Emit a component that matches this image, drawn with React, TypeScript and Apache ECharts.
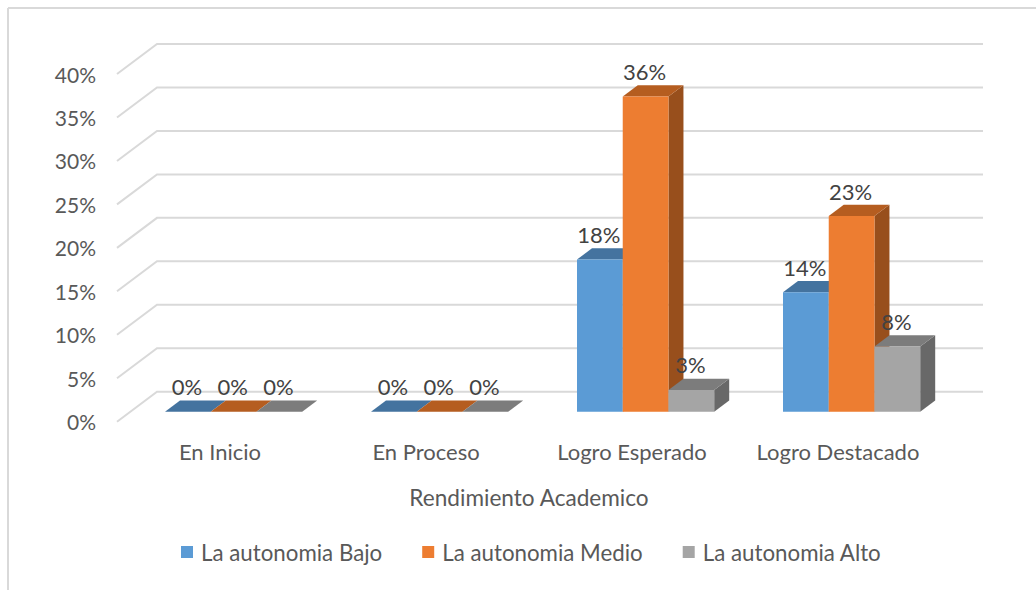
import React, { useEffect, useRef } from "react";
import * as echarts from "echarts";

const categories = ["En Inicio", "En Proceso", "Logro Esperado", "Logro Destacado"];
const seriesNames = ["La autonomia Bajo", "La autonomia Medio", "La autonomia Alto"];
const bajo = [0, 0, 17.5, 13.75];
const medio = [0, 0, 36.25, 22.5];
const alto = [0, 0, 2.5, 7.5];
const yTicks = [0, 5, 10, 15, 20, 25, 30, 35, 40];

const FONT = "Lato, Carlito, sans-serif";
const TEXT = "#595959";
const LABEL = "#424242";
const faceColors = ["#5b9bd5", "#ed7d31", "#a5a5a5"];
const topColors = ["#44739f", "#b55d20", "#7c7c7c"];
const sideColors = ["#3f6f9c", "#984f1c", "#686868"];

const WALL_DX = 40;
const WALL_DY = -30;
const PLANE_DX = 13.6;
const PLANE_DY = -10;
const BAR_DX = 15;
const BAR_DY = -11.3;
const BAR_RATIO = 0.222;

function poly(points: number[][], fill: string) {
  return { type: "polygon", shape: { points }, style: { fill, stroke: null } };
}

function barRenderer(idx: number) {
  return (_p: any, api: any) => {
    const cat = api.value(0);
    const val = api.value(1);
    const [cx, yTop0] = api.coord([cat, val]);
    const [, yBase0] = api.coord([cat, 0]);
    const w = api.size([1, 0])[0] * BAR_RATIO;
    const x0 = cx + PLANE_DX + (idx - 1.5) * w;
    const x1 = x0 + w;
    const yTop = yTop0 + PLANE_DY;
    const yBase = yBase0 + PLANE_DY;
    const children: any[] = [
      poly(
        [[x1, yTop], [x1 + BAR_DX, yTop + BAR_DY], [x1 + BAR_DX, yBase + BAR_DY], [x1, yBase]],
        sideColors[idx]
      ),
      poly(
        [[x0, yTop], [x0 + BAR_DX, yTop + BAR_DY], [x1 + BAR_DX, yTop + BAR_DY], [x1, yTop]],
        topColors[idx]
      ),
      poly([[x0, yTop], [x1, yTop], [x1, yBase], [x0, yBase]], faceColors[idx]),
      {
        type: "text",
        z2: 50,
        style: {
          text: `${Math.round(val)}%`,
          x: (x0 + x1) / 2 - 1,
          y: yTop - 25,
          align: "center",
          verticalAlign: "middle",
          fill: LABEL,
          font: `22px ${FONT}`,
        },
      },
    ];
    return { type: "group", children };
  };
}

function wallRenderer(p: any, api: any) {
  const [, y] = api.coord([0, api.value(1)]);
  const left = p.coordSys.x;
  const right = left + p.coordSys.width;
  return {
    type: "polyline",
    shape: {
      points: [
        [left, y],
        [left + WALL_DX, y + WALL_DY],
        [right + WALL_DX + 2, y + WALL_DY],
      ],
    },
    style: { fill: null, stroke: "#d9d9d9", lineWidth: 2 },
  };
}

export default function App() {
  const ref = useRef<HTMLDivElement>(null);
  useEffect(() => {
    const chart = echarts.init(ref.current!, null, { renderer: "svg" });
    const values = [bajo, medio, alto];
    chart.setOption({
      animation: false,
      backgroundColor: "#ffffff",
      textStyle: { fontFamily: FONT },
      grid: { left: 117, top: 74, width: 824, height: 347.7 },
      legend: {
        data: seriesNames,
        left: 176,
        top: 536,
        icon: "rect",
        itemWidth: 12,
        itemHeight: 12,
        itemGap: 40,
        textStyle: { color: TEXT, fontSize: 22.3, fontFamily: FONT, padding: [0, 0, 0, 3] },
      },
      xAxis: {
        type: "category",
        data: categories,
        axisLine: { show: false },
        axisTick: { show: false },
        splitLine: { show: false },
        axisLabel: { color: TEXT, fontSize: 22, fontFamily: FONT, margin: 19, interval: 0 },
        name: "Rendimiento Academico",
        nameLocation: "middle",
        nameGap: 64,
        nameTextStyle: { color: TEXT, fontSize: 22.6, fontFamily: FONT },
      },
      yAxis: {
        type: "value",
        min: 0,
        max: 40,
        interval: 5,
        axisLine: { show: false },
        axisTick: { show: false },
        splitLine: { show: false },
        axisLabel: { color: TEXT, fontSize: 21, fontFamily: FONT, margin: 21, formatter: "{value}%" },
      },
      graphic: [
        { type: "line", silent: true, shape: { x1: 8, y1: 8, x2: 1036, y2: 8 }, style: { stroke: "#d9d9d9", lineWidth: 2 } },
        { type: "line", silent: true, shape: { x1: 8, y1: 8, x2: 8, y2: 590 }, style: { stroke: "#d9d9d9", lineWidth: 2 } },
      ],
      series: [
        {
          type: "custom",
          name: "walls",
          silent: true,
          z: 1,
          renderItem: wallRenderer,
          encode: { x: 0, y: 1 },
          data: yTicks.map((t) => [0, t]),
        },
        ...seriesNames.map((name, i) => ({
          type: "custom",
          name,
          z: 2 + i,
          itemStyle: { color: faceColors[i] },
          renderItem: barRenderer(i),
          encode: { x: 0, y: 1 },
          data: values[i].map((v, c) => [c, v]),
        })),
      ],
    });
    return () => chart.dispose();
  }, []);
  return <div ref={ref} style={{ position: "absolute", left: 0, top: 0, width: 1036, height: 590 }} />;
}
